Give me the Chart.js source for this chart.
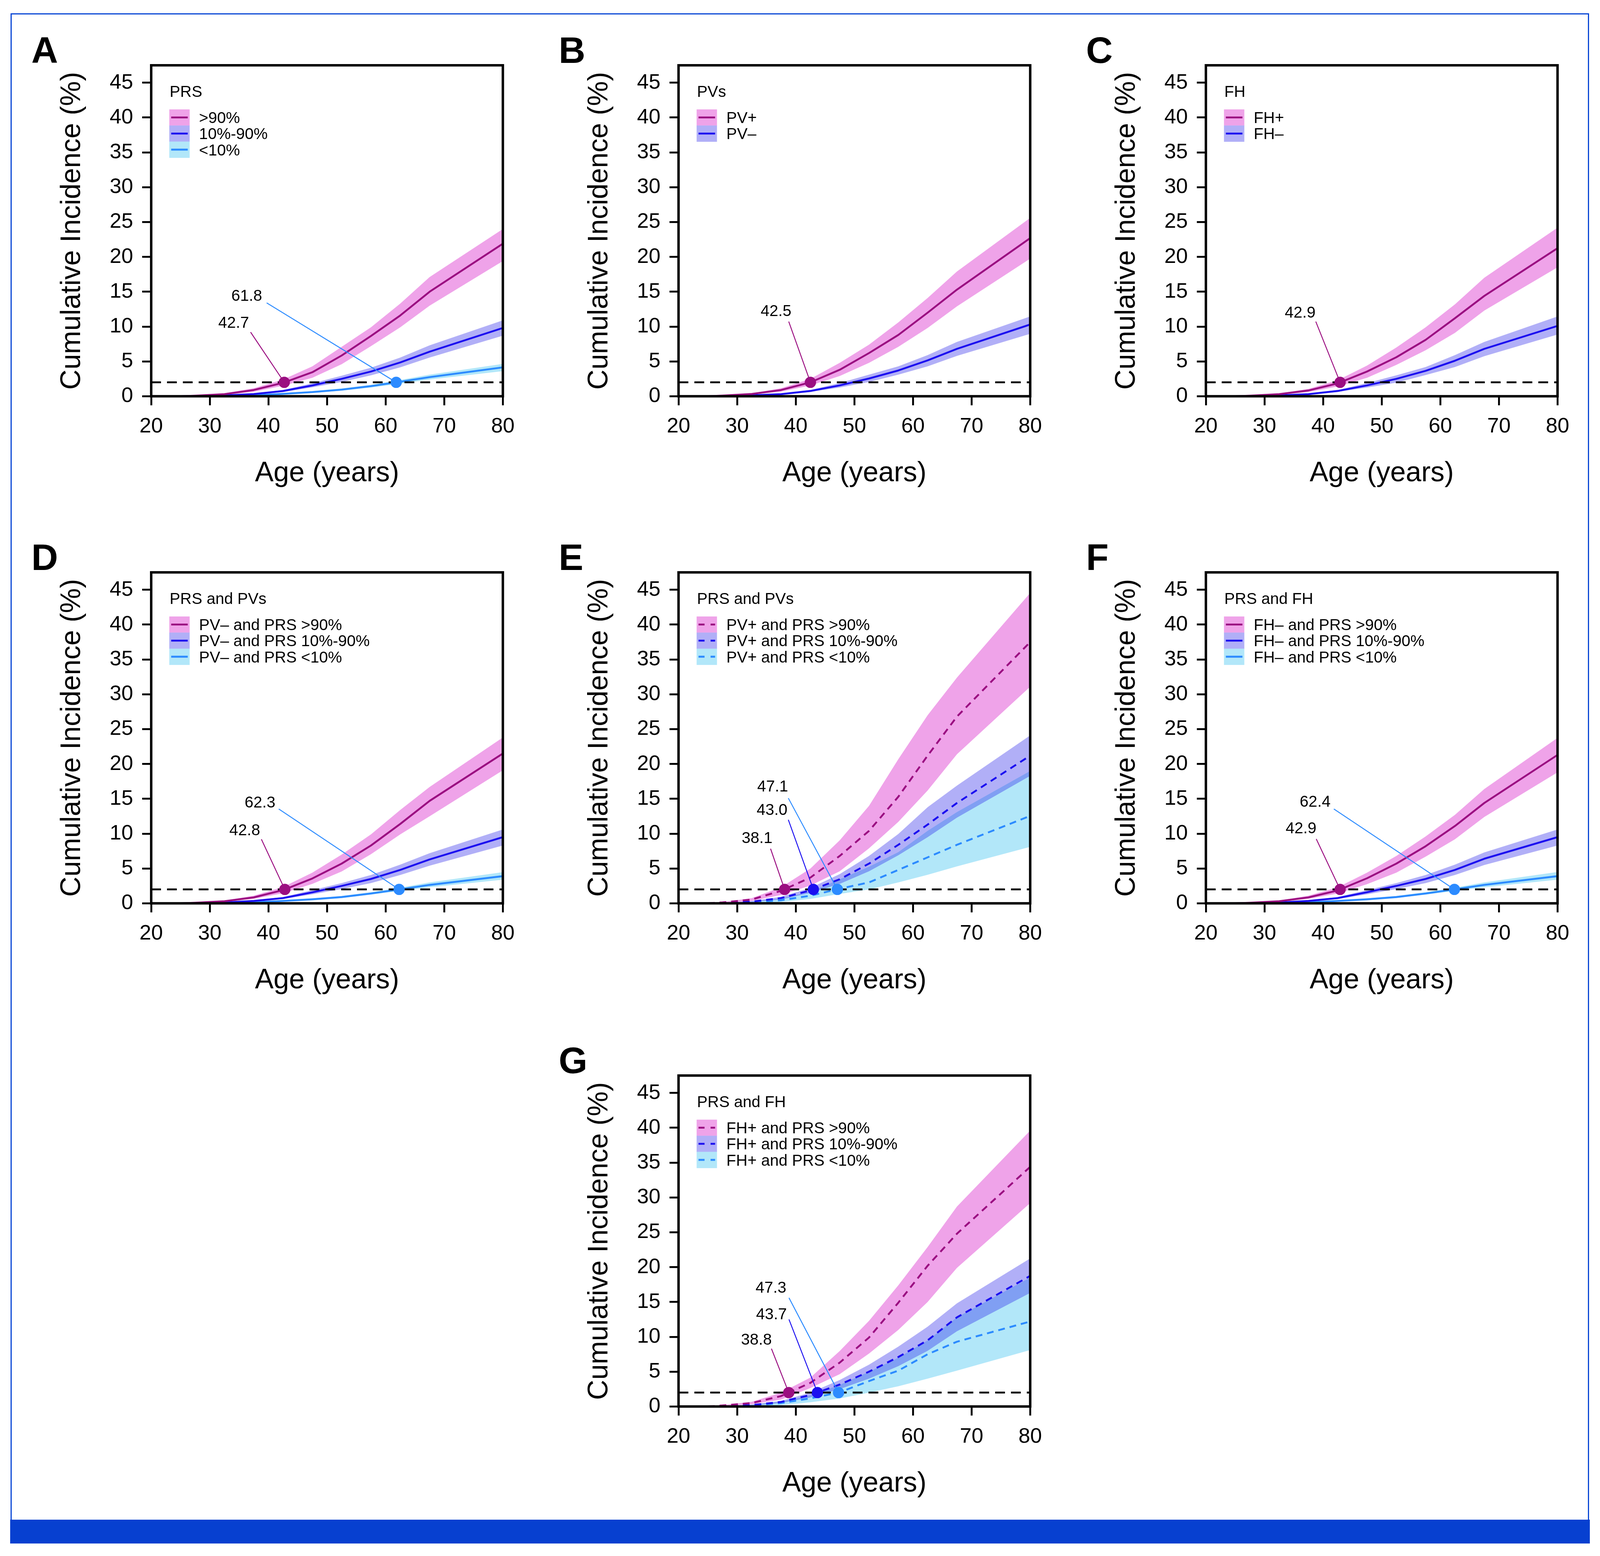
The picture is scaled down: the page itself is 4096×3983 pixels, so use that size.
<!DOCTYPE html>
<html>
<head>
<meta charset="utf-8">
<script src="https://cdn.jsdelivr.net/npm/chart.js@4.4.0/dist/chart.umd.min.js"></script>
<style>
html, body { margin: 0; padding: 0; background: #fff; }
body { width: 4096px; height: 3983px; position: relative; overflow: hidden; }
canvas { position: absolute; }
#edge { position: absolute; box-sizing: border-box; border: 3px solid #0A47D5; border-bottom: none; }
#band { position: absolute; background: #0740D0; }
</style>
</head>
<body>
<div id="edge"></div>
<div id="band"></div>
<script>
// reference is 4245 px wide, window is 4096
const S = 4096 / 4245;
const px = v => v * S;
const FONT = '"Liberation Sans", Arial, Helvetica, sans-serif';

// ---- data ----
const ages = [25, 27.5, 32.5, 37.5, 42.5, 47.5, 52.5, 57.5, 62.5, 67.5, 80];
const ageTicks = [20, 30, 40, 50, 60, 70, 80];
const incidenceTicks = [0, 5, 10, 15, 20, 25, 30, 35, 40, 45];
const threshold = 2;

// A: PRS
const aHigh   = [0, 0.08, 0.3, 0.9, 1.93, 3.45, 5.85, 8.65, 11.6, 15.0, 21.9];
const aHighLo = [0, 0.05, 0.2, 0.65, 1.5, 2.65, 4.6, 7.2, 9.9, 13.0, 19.4];
const aHighUp = [0, 0.1, 0.42, 1.15, 2.4, 4.3, 7.1, 9.9, 13.3, 17.1, 24.0];
const aMid    = [0, 0.03, 0.12, 0.32, 0.75, 1.55, 2.5, 3.55, 4.85, 6.4, 9.8];
const aMidLo  = [0, 0.02, 0.08, 0.24, 0.6, 1.28, 2.05, 3.0, 4.15, 5.55, 8.7];
const aMidUp  = [0, 0.04, 0.16, 0.4, 0.9, 1.85, 2.95, 4.1, 5.55, 7.3, 10.9];
const aLow    = [0, 0.01, 0.05, 0.15, 0.35, 0.6, 0.95, 1.45, 2.08, 2.75, 4.15];
const aLowLo  = [0, 0, 0.03, 0.1, 0.27, 0.48, 0.8, 1.25, 1.8, 2.4, 3.6];
const aLowUp  = [0, 0.02, 0.07, 0.2, 0.45, 0.75, 1.12, 1.65, 2.35, 3.1, 4.65];
const aCross  = [42.7, 61.8];

// B: PVs
const bPos   = [0, 0.1, 0.33, 0.9, 2.0, 3.8, 6.2, 8.8, 12.0, 15.3, 22.7];
const bPosLo = [0, 0.07, 0.25, 0.66, 1.55, 2.9, 4.8, 7.1, 9.8, 12.9, 19.75];
const bPosUp = [0, 0.13, 0.42, 1.16, 2.5, 4.8, 7.4, 10.6, 14.1, 17.9, 25.6];
const bNeg   = [0, 0.03, 0.13, 0.3, 0.76, 1.56, 2.55, 3.7, 5.15, 6.8, 10.3];
const bNegLo = [0, 0.02, 0.1, 0.24, 0.63, 1.25, 2.05, 3.1, 4.3, 5.8, 8.96];
const bNegUp = [0, 0.04, 0.16, 0.36, 0.9, 1.9, 3.1, 4.3, 5.9, 7.8, 11.45];
const bCross = [42.5];

// C: FH
const cPos   = [0, 0.08, 0.3, 0.83, 1.85, 3.55, 5.6, 8.1, 11.2, 14.4, 21.25];
const cPosLo = [0, 0.05, 0.22, 0.6, 1.4, 2.65, 4.5, 6.6, 9.1, 12.3, 18.5];
const cPosUp = [0, 0.11, 0.4, 1.05, 2.3, 4.4, 7.0, 9.9, 13.2, 17.0, 24.2];
const cNeg   = [0, 0.03, 0.12, 0.3, 0.76, 1.56, 2.5, 3.65, 5.1, 6.8, 10.1];
const cNegLo = [0, 0.02, 0.09, 0.24, 0.63, 1.25, 1.95, 3.05, 4.2, 5.75, 8.86];
const cNegUp = [0, 0.04, 0.15, 0.36, 0.9, 1.9, 3.0, 4.2, 5.9, 7.8, 11.45];
const cCross = [42.9];

// D: PV- and PRS
const dHigh   = [0, 0.08, 0.3, 0.85, 1.9, 3.57, 5.7, 8.3, 11.4, 14.7, 21.5];
const dHighLo = [0, 0.05, 0.22, 0.65, 1.45, 2.8, 4.57, 7.06, 9.9, 12.5, 19.1];
const dHighUp = [0, 0.11, 0.4, 1.1, 2.35, 4.4, 7.0, 9.9, 13.4, 16.7, 23.8];
const dMid    = [0, 0.03, 0.12, 0.35, 0.75, 1.58, 2.5, 3.5, 4.8, 6.3, 9.5];
const dMidLo  = [0, 0.02, 0.09, 0.28, 0.62, 1.3, 2.05, 2.9, 4.07, 5.4, 8.3];
const dMidUp  = [0, 0.04, 0.15, 0.42, 0.9, 1.9, 2.9, 4.07, 5.55, 7.2, 10.6];
const dLow    = [0, 0.01, 0.05, 0.15, 0.35, 0.58, 0.9, 1.41, 2.02, 2.64, 3.9];
const dLowLo  = [0, 0, 0.03, 0.1, 0.27, 0.47, 0.78, 1.25, 1.8, 2.3, 3.4];
const dLowUp  = [0, 0.02, 0.07, 0.2, 0.43, 0.7, 1.05, 1.6, 2.25, 3.0, 4.47];
const dCross  = [42.8, 62.3];

// E: PV+ and PRS
const eHigh   = [0, 0.13, 0.55, 1.8, 3.7, 6.8, 10.4, 15.3, 21.2, 26.8, 37.5];
const eHighLo = [0, 0.08, 0.35, 1.2, 2.55, 4.6, 7.9, 11.7, 16.2, 21.4, 31.1];
const eHighUp = [0, 0.18, 0.75, 2.3, 5.0, 9.05, 14.0, 20.7, 27.0, 32.4, 44.55];
const eMid    = [0, 0.05, 0.25, 0.75, 1.85, 3.45, 5.7, 8.4, 11.3, 14.4, 21.2];
const eMidLo  = [0, 0.03, 0.17, 0.55, 1.5, 2.8, 4.6, 6.9, 9.5, 12.3, 18.3];
const eMidUp  = [0, 0.07, 0.33, 0.95, 2.2, 4.2, 6.8, 9.95, 13.8, 16.9, 24.1];
const eLow    = [0, 0.03, 0.15, 0.45, 1.1, 2.1, 3.0, 4.8, 6.6, 8.4, 12.55];
const eLowLo  = [0, 0.01, 0.07, 0.2, 0.63, 1.35, 2.0, 3.0, 4.1, 5.3, 8.1];
const eLowUp  = [0, 0.05, 0.25, 0.7, 1.65, 3.45, 5.25, 7.35, 10.4, 13.1, 19.0];
const eCross  = [38.1, 43.0, 47.1];

// F: FH- and PRS
const fHigh   = [0, 0.08, 0.3, 0.85, 1.85, 3.6, 5.7, 8.2, 11.1, 14.4, 21.3];
const fHighLo = [0, 0.05, 0.22, 0.65, 1.4, 2.75, 4.4, 6.7, 9.2, 12.4, 18.8];
const fHighUp = [0, 0.11, 0.4, 1.1, 2.3, 4.4, 6.8, 9.6, 12.7, 16.4, 23.75];
const fMid    = [0, 0.03, 0.12, 0.35, 0.75, 1.6, 2.5, 3.5, 4.8, 6.4, 9.5];
const fMidLo  = [0, 0.02, 0.09, 0.28, 0.62, 1.3, 2.05, 2.9, 4.07, 5.5, 8.3];
const fMidUp  = [0, 0.04, 0.15, 0.42, 0.9, 1.9, 2.9, 4.07, 5.55, 7.3, 10.6];
const fLow    = [0, 0.01, 0.05, 0.15, 0.35, 0.58, 0.9, 1.41, 2.02, 2.65, 3.9];
const fLowLo  = [0, 0, 0.03, 0.1, 0.27, 0.47, 0.78, 1.25, 1.8, 2.3, 3.4];
const fLowUp  = [0, 0.02, 0.07, 0.2, 0.43, 0.7, 1.05, 1.6, 2.25, 3.0, 4.5];
const fCross  = [42.9, 62.4];

// G: FH+ and PRS
const gHigh   = [0, 0.15, 0.5, 1.5, 3.4, 6.3, 9.9, 14.9, 20.2, 24.8, 34.4];
const gHighLo = [0, 0.08, 0.33, 1.0, 2.65, 4.65, 7.6, 11.0, 15.0, 19.9, 29.2];
const gHighUp = [0, 0.2, 0.68, 2.0, 4.15, 7.97, 12.3, 17.4, 22.9, 28.7, 39.6];
const gMid    = [0, 0.05, 0.2, 0.66, 1.65, 3.15, 5.0, 7.1, 9.5, 12.8, 18.75];
const gMidLo  = [0, 0.03, 0.14, 0.5, 1.3, 2.5, 4.0, 5.8, 8.0, 10.8, 16.3];
const gMidUp  = [0, 0.07, 0.27, 0.8, 2.0, 3.8, 6.0, 8.6, 11.45, 14.8, 21.25];
const gLow    = [0, 0.03, 0.15, 0.5, 1.16, 2.05, 3.65, 5.15, 7.5, 9.3, 12.2];
const gLowLo  = [0, 0.01, 0.06, 0.2, 0.6, 1.16, 2.0, 2.9, 4.0, 5.15, 8.1];
const gLowUp  = [0, 0.05, 0.25, 0.7, 1.6, 3.1, 5.0, 7.0, 9.5, 12.8, 18.5];
const gCross  = [38.8, 43.7, 47.3];

// ---- styles ----
const tones = {
  pink:   { line: '#9B0F81', band: 'rgba(219,51,206,0.45)', swatch: '#EFA3E9', order: 10 },
  purple: { line: '#1B0FF0', band: 'rgba(41,35,233,0.364)', swatch: '#B1AFF7', order: 20 },
  cyan:   { line: '#2C8BFF', band: 'rgba(43,189,238,0.364)', swatch: '#B2E7F9', order: 30 }
};

// frame positions in reference pixels
const colLeft = [401, 1800, 3199];
const rowTop = [173, 1518, 2853];
const frameW = 933, frameH = 878;
const padL = 340, padT = 110, padR = 40, padB = 290;

const panels = [
  { letter: 'A', col: 0, row: 0, title: 'PRS', dashed: false,
    series: [
      { name: '>90%', line: aHigh, lo: aHighLo, up: aHighUp, tone: 'pink' },
      { name: '10%-90%', line: aMid, lo: aMidLo, up: aMidUp, tone: 'purple' },
      { name: '<10%', line: aLow, lo: aLowLo, up: aLowUp, tone: 'cyan' }],
    cross: aCross, crossTone: ['pink', 'cyan'],
    labels: [[34.07, 10.66, 36.96, 9.2], [36.3, 14.56, 39.7, 13.4]] },
  { letter: 'B', col: 1, row: 0, title: 'PVs', dashed: false,
    series: [
      { name: 'PV+', line: bPos, lo: bPosLo, up: bPosUp, tone: 'pink' },
      { name: 'PV\u2013', line: bNeg, lo: bNegLo, up: bNegUp, tone: 'purple' }],
    cross: bCross, crossTone: ['pink'],
    labels: [[36.63, 12.35, 38.8, 10.72]] },
  { letter: 'C', col: 2, row: 0, title: 'FH', dashed: false,
    series: [
      { name: 'FH+', line: cPos, lo: cPosLo, up: cPosUp, tone: 'pink' },
      { name: 'FH\u2013', line: cNeg, lo: cNegLo, up: cNegUp, tone: 'purple' }],
    cross: cCross, crossTone: ['pink'],
    labels: [[36.08, 12.12, 38.75, 10.72]] },
  { letter: 'D', col: 0, row: 1, title: 'PRS and PVs', dashed: false,
    series: [
      { name: 'PV\u2013 and PRS >90%', line: dHigh, lo: dHighLo, up: dHighUp, tone: 'pink' },
      { name: 'PV\u2013 and PRS 10%-90%', line: dMid, lo: dMidLo, up: dMidUp, tone: 'purple' },
      { name: 'PV\u2013 and PRS <10%', line: dLow, lo: dLowLo, up: dLowUp, tone: 'cyan' }],
    cross: dCross, crossTone: ['pink', 'cyan'],
    labels: [[35.96, 10.6, 38.8, 9.2], [38.57, 14.6, 41.76, 13.54]] },
  { letter: 'E', col: 1, row: 1, title: 'PRS and PVs', dashed: true,
    series: [
      { name: 'PV+ and PRS >90%', line: eHigh, lo: eHighLo, up: eHighUp, tone: 'pink' },
      { name: 'PV+ and PRS 10%-90%', line: eMid, lo: eMidLo, up: eMidUp, tone: 'purple' },
      { name: 'PV+ and PRS <10%', line: eLow, lo: eLowLo, up: eLowUp, tone: 'cyan' }],
    cross: eCross, crossTone: ['pink', 'purple', 'cyan'],
    labels: [[33.4, 9.5, 35.7, 7.84], [35.95, 13.5, 38.73, 12.0], [36.06, 16.9, 38.73, 15.1]] },
  { letter: 'F', col: 2, row: 1, title: 'PRS and FH', dashed: false,
    series: [
      { name: 'FH\u2013 and PRS >90%', line: fHigh, lo: fHighLo, up: fHighUp, tone: 'pink' },
      { name: 'FH\u2013 and PRS 10%-90%', line: fMid, lo: fMidLo, up: fMidUp, tone: 'purple' },
      { name: 'FH\u2013 and PRS <10%', line: fLow, lo: fLowLo, up: fLowUp, tone: 'cyan' }],
    cross: fCross, crossTone: ['pink', 'cyan'],
    labels: [[36.23, 10.9, 38.83, 9.24], [38.64, 14.68, 41.83, 13.55]] },
  { letter: 'G', col: 1, row: 2, title: 'PRS and FH', dashed: true,
    series: [
      { name: 'FH+ and PRS >90%', line: gHigh, lo: gHighLo, up: gHighUp, tone: 'pink' },
      { name: 'FH+ and PRS 10%-90%', line: gMid, lo: gMidLo, up: gMidUp, tone: 'purple' },
      { name: 'FH+ and PRS <10%', line: gLow, lo: gLowLo, up: gLowUp, tone: 'cyan' }],
    cross: gCross, crossTone: ['pink', 'purple', 'cyan'],
    labels: [[33.29, 9.7, 35.85, 8.3], [35.85, 13.35, 38.84, 12.5], [35.77, 17.16, 38.84, 15.6]] }
];

const pts = vals => ages.map((a, i) => ({ x: a, y: vals[i] }));

function buildDatasets(p) {
  const ds = [];
  p.series.forEach(s => {
    const t = tones[s.tone];
    ds.push({ data: pts(s.lo), borderWidth: 0, borderColor: 'transparent', pointRadius: 0, fill: false, order: t.order });
    ds.push({ data: pts(s.up), borderWidth: 0, borderColor: 'transparent', pointRadius: 0, fill: '-1', backgroundColor: t.band, order: t.order });
  });
  p.series.forEach(s => {
    ds.push({
      data: pts(s.line), borderColor: tones[s.tone].line, borderWidth: px(5),
      borderDash: p.dashed ? [px(18), px(13)] : [], pointRadius: 0, fill: false, order: 5
    });
  });
  ds.push({
    data: [{ x: 20, y: threshold }, { x: 80, y: threshold }], borderColor: '#000',
    borderWidth: px(5), borderDash: [px(26), px(16)], pointRadius: 0, fill: false, order: 3
  });
  p.cross.forEach((age, i) => {
    const lab = p.labels[i];
    const col = tones[p.crossTone[i]].line;
    ds.push({
      data: [{ x: lab[2], y: lab[3] }, { x: age, y: threshold }], borderColor: col,
      borderWidth: px(2.5), pointRadius: 0, fill: false, order: 2
    });
    ds.push({
      data: [{ x: age, y: threshold }], showLine: false, pointRadius: px(15),
      pointBackgroundColor: col, pointBorderWidth: 0, order: 1
    });
  });
  return ds;
}

function decorPlugin(p) {
  return {
    id: 'decor',
    afterDatasetsDraw(chart) {
      const { ctx, chartArea: a } = chart;
      const xs = chart.scales.x, ys = chart.scales.y;
      ctx.save();
      // crossing labels
      ctx.fillStyle = '#000';
      ctx.font = px(42) + 'px ' + FONT;
      ctx.textAlign = 'center';
      ctx.textBaseline = 'alphabetic';
      p.cross.forEach((age, i) => {
        const lab = p.labels[i];
        ctx.fillText(age.toFixed(1), xs.getPixelForValue(lab[0]), ys.getPixelForValue(lab[1]) + px(15.5));
      });
      // frame
      ctx.strokeStyle = '#000';
      ctx.lineWidth = px(6.5);
      ctx.strokeRect(a.left, a.top, a.right - a.left, a.bottom - a.top);
      // legend
      ctx.textAlign = 'left';
      ctx.fillText(p.title, a.left + px(49), a.top + px(84));
      const rowH = px(42.7);
      p.series.forEach((s, i) => {
        const t = tones[s.tone];
        const top = a.top + px(117) + i * rowH;
        ctx.fillStyle = t.swatch;
        ctx.fillRect(a.left + px(48), top, px(54), rowH + 0.5);
        ctx.strokeStyle = t.line;
        ctx.lineWidth = px(5);
        ctx.setLineDash(p.dashed ? [px(16), px(16)] : []);
        ctx.beginPath();
        ctx.moveTo(a.left + px(53), top + rowH / 2);
        ctx.lineTo(a.left + px(97), top + rowH / 2);
        ctx.stroke();
        ctx.setLineDash([]);
        ctx.fillStyle = '#000';
        ctx.fillText(s.name, a.left + px(127), top + rowH / 2 + px(15));
      });
      // panel letter
      ctx.font = 'bold ' + px(98) + 'px ' + FONT;
      ctx.fillText(p.letter, a.left - px(318), a.top - px(6));
      ctx.restore();
    }
  };
}

function makePanel(p) {
  const cv = document.createElement('canvas');
  const W = Math.round((padL + frameW + padR) * S);
  const H = Math.round((padT + frameH + padB) * S);
  cv.width = W;
  cv.height = H;
  cv.style.width = W + 'px';
  cv.style.height = H + 'px';
  cv.style.left = Math.round((colLeft[p.col] - padL) * S) + 'px';
  cv.style.top = Math.round((rowTop[p.row] - padT) * S) + 'px';
  document.body.appendChild(cv);

  const tickGrid = { drawOnChartArea: false, drawTicks: true, tickLength: px(24), lineWidth: px(5), color: '#000' };

  new Chart(cv.getContext('2d'), {
    type: 'line',
    data: { datasets: buildDatasets(p) },
    options: {
      responsive: false,
      animation: false,
      devicePixelRatio: 1,
      events: [],
      layout: { padding: { top: px(padT), right: W - px(padL) - px(frameW), left: 0, bottom: 0 } },
      plugins: { legend: { display: false }, tooltip: { enabled: false } },
      elements: { line: { tension: 0, borderCapStyle: 'butt', borderJoinStyle: 'round' } },
      scales: {
        x: {
          type: 'linear', min: 20, max: 80,
          afterBuildTicks: sc => { sc.ticks = ageTicks.map(v => ({ value: v })); },
          afterFit: sc => {
            sc.height = H - px(padT) - px(frameH);
            sc.paddingLeft = 0; sc.paddingRight = 0; sc.paddingTop = 0; sc.paddingBottom = 0;
          },
          grid: tickGrid,
          border: { display: false },
          ticks: { color: '#000', font: { size: px(56), family: FONT }, padding: px(23), maxRotation: 0, autoSkip: false },
          title: { display: true, text: 'Age (years)', color: '#000', font: { size: px(74), family: FONT },
                   padding: { top: 0, bottom: px(40.6) } }
        },
        y: {
          type: 'linear', min: 0, max: 47.5,
          afterBuildTicks: sc => { sc.ticks = incidenceTicks.map(v => ({ value: v })); },
          afterFit: sc => {
            sc.width = px(padL);
            sc.paddingLeft = 0; sc.paddingRight = 0; sc.paddingTop = 0; sc.paddingBottom = 0;
          },
          grid: tickGrid,
          border: { display: false },
          ticks: { color: '#000', font: { size: px(56), family: FONT }, padding: px(24), autoSkip: false },
          title: { display: true, text: 'Cumulative Incidence (%)', color: '#000', font: { size: px(74), family: FONT },
                   padding: { top: px(86.6), bottom: 0 } }
        }
      }
    },
    plugins: [decorPlugin(p)]
  });
}

// page border and bottom bar
const edge = document.getElementById('edge');
edge.style.left = px(28) + 'px';
edge.style.top = px(35) + 'px';
edge.style.width = px(4216 - 28) + 'px';
edge.style.height = px(4032 - 35) + 'px';
const band = document.getElementById('band');
band.style.left = px(27) + 'px';
band.style.top = px(4032) + 'px';
band.style.width = px(4218 - 27) + 'px';
band.style.height = px(4095 - 4032) + 'px';

panels.forEach(makePanel);
</script>
</body>
</html>
